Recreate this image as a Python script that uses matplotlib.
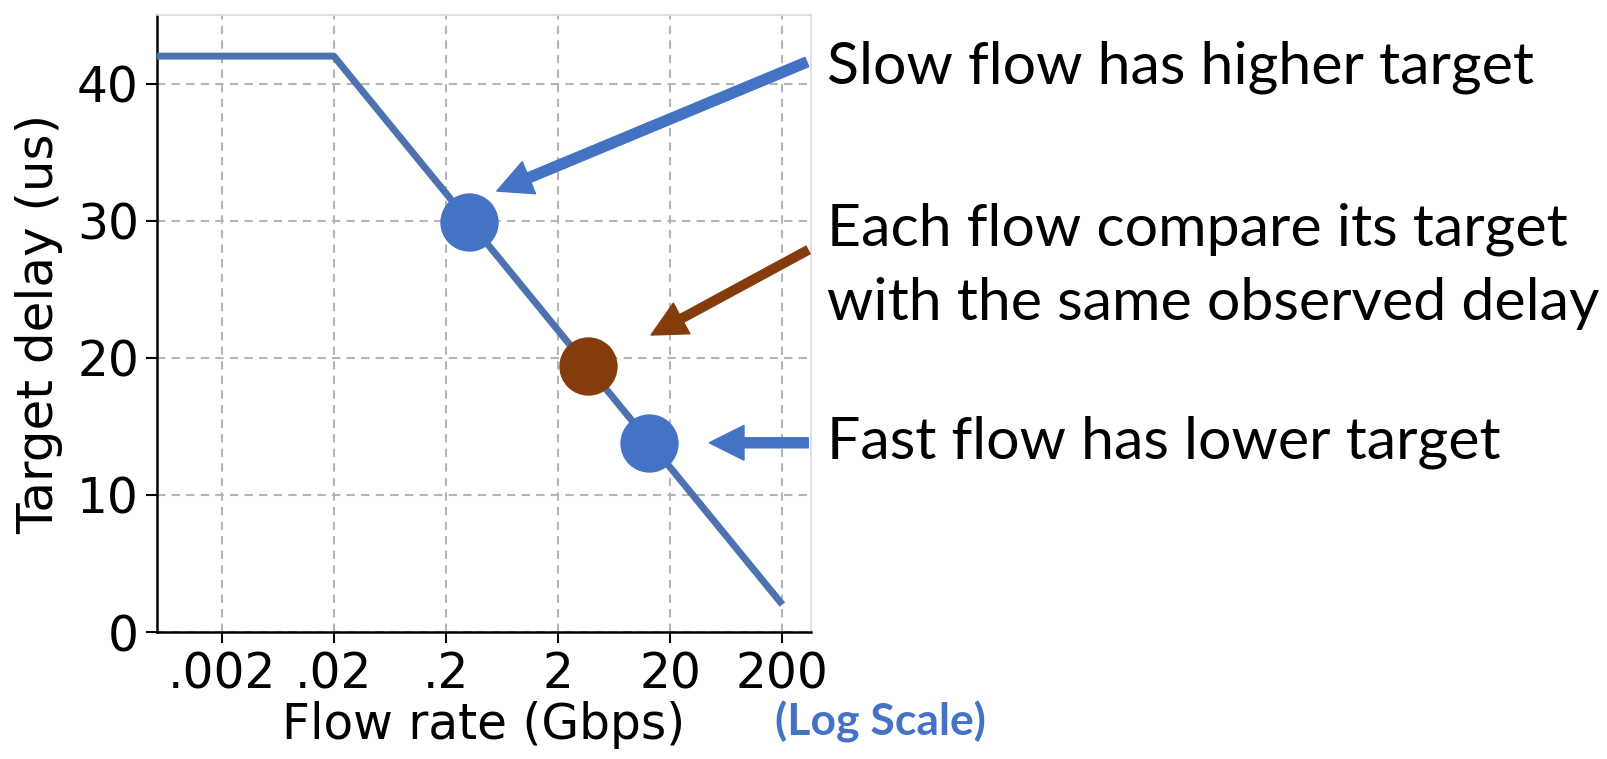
import matplotlib.pyplot as plt
from matplotlib.transforms import offset_copy

# ── data ─────────────────────────────────────────────────────────────────────
rate_knots  = [0.0005, 0.02, 200]      # Gbps
delay_knots = [42, 42, 2]              # us

slow_rate, slow_delay = 0.32, 29.9
obs_rate,  obs_delay  = 3.7, 19.4
fast_rate, fast_delay = 13.0, 13.8

xtick_vals   = [0.002, 0.02, 0.2, 2, 20, 200]
xtick_labels = [".002", ".02", ".2", "2", "20", "200"]
ytick_vals   = [0, 10, 20, 30, 40]

note_slow = "Slow flow has higher target"
note_obs  = ["Each flow compare its target", "with the same observed delay"]
note_fast = "Fast flow has lower target"

line_c  = "#4C72B0"
blue    = "#4472C4"
brown   = "#843C0C"

# ── figure ───────────────────────────────────────────────────────────────────
W, H = 1608, 759
fig = plt.figure(figsize=(W / 100, H / 100), dpi=100)
ax = fig.add_axes([157 / W, 1 - 632 / H, (811 - 157) / W, (632 - 15) / H])

ax.plot(rate_knots, delay_knots, color=line_c, lw=5, solid_capstyle="butt", zorder=3)
ax.plot([slow_rate, fast_rate], [slow_delay, fast_delay], "o", color=blue, ms=41, zorder=4)
ax.plot([obs_rate], [obs_delay], "o", color=brown, ms=41, zorder=4)

ax.set_xscale("log")
ax.set_xlim(0.00053, 360)
ax.set_ylim(0, 45)
ax.set_xticks(xtick_vals, xtick_labels)
ax.minorticks_off()
ax.set_yticks(ytick_vals)
ax.tick_params(labelsize=35, length=8, width=1.5, pad=5)
ax.grid(True, color="#b5b5b5", ls=(0, (4, 3)), lw=1.5)
ax.set_xlabel("Flow rate (Gbps)", fontsize=35, labelpad=2)
ax.set_ylabel("Target delay (us)", fontsize=36, labelpad=10)
for s in ("left", "bottom"):
    ax.spines[s].set_linewidth(1.8)
for s in ("top", "right"):
    ax.spines[s].set_color("#d9d9d9")
    ax.spines[s].set_linewidth(1.2)

# ── arrows (tip offset from point, tail offset from tip; pixels) ─────────────
def arrow(x, y, tip, tail, color, tw):
    trans = offset_copy(ax.transData, fig=fig, x=tip[0], y=tip[1], units="dots")
    ax.annotate("", xy=(x, y), xycoords=trans, xytext=tail, textcoords="offset pixels",
                arrowprops=dict(arrowstyle=f"simple,head_length=0.5,head_width=0.5,tail_width={tw}",
                                color=color, shrinkA=0, shrinkB=0, mutation_scale=50),
                annotation_clip=False, zorder=5)

arrow(slow_rate, slow_delay, (28, 31), (310, 129), blue, 0.145)
arrow(obs_rate, obs_delay, (63, 31), (157, 85), brown, 0.125)
arrow(fast_rate, fast_delay, (60, 0), (99, 0), blue, 0.145)

# ── notes ────────────────────────────────────────────────────────────────────
note_font = ["Lato", "DejaVu Sans"]
fig.text(827 / W, 1 - 83 / H, note_slow, fontsize=42.5, family=note_font, va="baseline")
fig.text(827 / W, 1 - 246 / H, note_obs[0], fontsize=42.5, family=note_font, va="baseline")
fig.text(827 / W, 1 - 320 / H, note_obs[1], fontsize=42.5, family=note_font, va="baseline")
fig.text(827 / W, 1 - 459 / H, note_fast, fontsize=42.5, family=note_font, va="baseline")
fig.text(880 / W, 1 - 722 / H, "(Log Scale)", fontsize=32, family=note_font,
         weight="bold", color=blue, ha="center", va="center")

fig.savefig("out.png", dpi=100)
